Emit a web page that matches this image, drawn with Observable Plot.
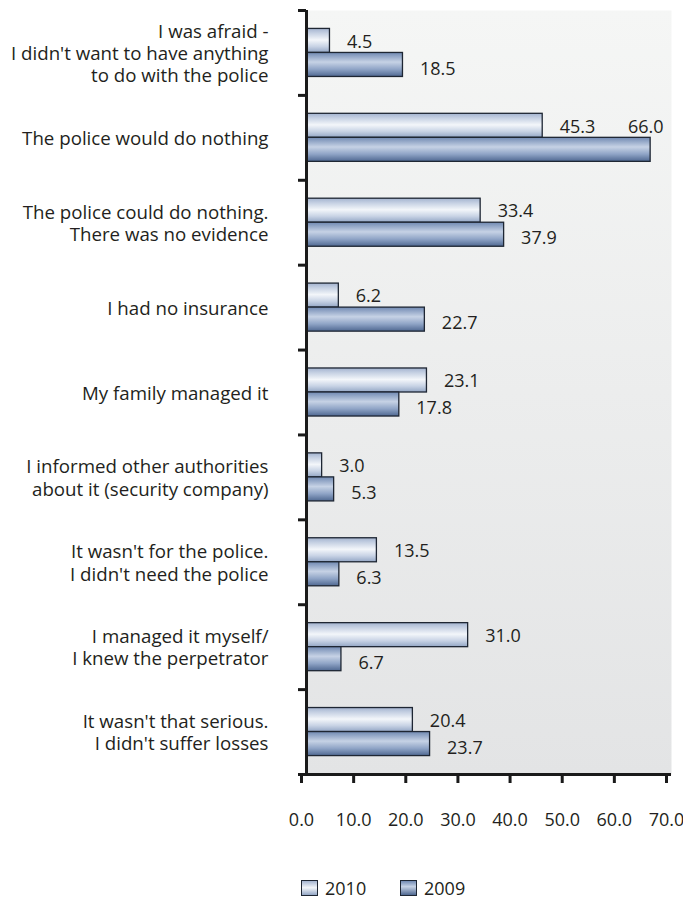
<!DOCTYPE html>
<html>
<head>
<meta charset="utf-8">
<script src="https://cdn.jsdelivr.net/npm/d3@7"></script>
<script src="https://cdn.jsdelivr.net/npm/@observablehq/plot@0.6"></script>
<style>
  html, body { margin: 0; padding: 0; background: #ffffff; }
  #chart { width: 683px; }
  .legend { position: relative; height: 61px; font-family: 'Open Sans', sans-serif; font-size: 18px; color: #231f20; }
  .legend .item { position: absolute; top: 31px; display: flex; align-items: center; }
  .legend .sw { width: 15px; height: 14px; border: 1px solid #1e2633; margin-right: 7px; }
</style>
</head>
<body>
<div id="chart"></div>
<script>
// ---- data ----
const categories = [
  "I was afraid -\nI didn't want to have anything\nto do with the police",
  "The police would do nothing",
  "The police could do nothing.\nThere was no evidence",
  "I had no insurance",
  "My family managed it",
  "I informed other authorities\nabout it (security company)",
  "It wasn't for the police.\nI didn't need the police",
  "I managed it myself/\nI knew the perpetrator",
  "It wasn't that serious.\nI didn't suffer losses"
];
const years = ["2010", "2009"];
const values2010 = [4.5, 45.3, 33.4, 6.2, 23.1, 3.0, 13.5, 31.0, 20.4];
const values2009 = [18.5, 66.0, 37.9, 22.7, 17.8, 5.3, 6.3, 6.7, 23.7];
const xTicks = [0, 10, 20, 30, 40, 50, 60, 70];

// ---- build table ----
const rows = categories.flatMap((c, i) => [
  {i, cat: c, year: years[0], k: 0, value: values2010[i]},
  {i, cat: c, year: years[1], k: 1, value: values2009[i]}
]);
const cats = categories.map((c, i) => ({i, cat: c}));
const H = 0.283; // bar thickness as a fraction of a category band
const yTop = d => d.i + 0.5 - (1 - d.k) * H;
const yBot = d => d.i + 0.5 + d.k * H;
const yMid = d => d.i + 0.5 + (d.k - 0.5) * H;
const fmt = d3.format(".1f");
const ink = "#231f20";
const overflow = d => d.value > 60;

const plot = Plot.plot({
  width: 683,
  height: 845,
  marginLeft: 306,
  marginRight: 12,
  marginTop: 10,
  marginBottom: 71,
  style: {fontFamily: "'Open Sans', sans-serif", fontSize: "18px", color: ink, background: "transparent"},
  x: {domain: [0, 70]},
  y: {domain: [0, 9], reverse: true},
  marks: [
    Plot.frame({fill: "url(#bgGrad)", stroke: "none"}),
    Plot.rectX(rows.filter(d => d.k === 0), {x1: 0, x2: "value", y1: yTop, y2: yBot, fill: "url(#g2010)", stroke: "#1e2633", strokeWidth: 1.3}),
    Plot.rectX(rows.filter(d => d.k === 1), {x1: 0, x2: "value", y1: yTop, y2: yBot, fill: "url(#g2009)", stroke: "#1e2633", strokeWidth: 1.3}),
    Plot.text(rows.filter(d => d.k === 0 && !overflow(d)), {x: "value", y: yMid, text: d => fmt(d.value), textAnchor: "start", dx: 17, dy: 1, fontSize: 18, fill: ink}),
    Plot.text(rows.filter(d => d.k === 1 && !overflow(d)), {x: "value", y: yMid, text: d => fmt(d.value), textAnchor: "start", dx: 17, dy: 4, fontSize: 18, fill: ink}),
    Plot.text(rows.filter(overflow), {x: "value", y: d => d.i + 0.5 - H / 2, text: d => fmt(d.value), textAnchor: "end", dx: 13, dy: 1, fontSize: 18, fill: ink}),
    Plot.text(cats, {y: d => d.i + 0.5, text: "cat", frameAnchor: "left", textAnchor: "end", dx: -38, lineHeight: 1.19, fontSize: 18.7, fill: ink}),
    Plot.ruleX([0], {stroke: "#1a1a1a", strokeWidth: 3}),
    Plot.ruleY([9], {stroke: "#1a1a1a", strokeWidth: 3}),
    Plot.axisY({ticks: d3.range(0, 10), tickSize: 8, tickFormat: () => "", label: null, stroke: "#1a1a1a", strokeWidth: 3}),
    Plot.axisX({ticks: xTicks, tickSize: 9, tickPadding: 30, tickFormat: fmt, label: null, dx: -5, stroke: "#1a1a1a", strokeWidth: 3, fontSize: 18, fill: ink})
  ]
});

d3.select(plot).insert("defs", ":first-child").html(`
  <linearGradient id="bgGrad" x1="0" y1="0" x2="0" y2="1">
    <stop offset="0%" stop-color="#f5f6f5"/>
    <stop offset="100%" stop-color="#e3e4e5"/>
  </linearGradient>
  <linearGradient id="g2010" x1="0" y1="0" x2="0" y2="1">
    <stop offset="0%" stop-color="#a3b3cf"/>
    <stop offset="20%" stop-color="#c6d1e3"/>
    <stop offset="48%" stop-color="#f3f6fa"/>
    <stop offset="75%" stop-color="#c8d3e5"/>
    <stop offset="100%" stop-color="#93a6c5"/>
  </linearGradient>
  <linearGradient id="g2009" x1="0" y1="0" x2="0" y2="1">
    <stop offset="0%" stop-color="#7089b2"/>
    <stop offset="40%" stop-color="#c6d2e5"/>
    <stop offset="70%" stop-color="#8fa4c6"/>
    <stop offset="100%" stop-color="#4f6891"/>
  </linearGradient>
`);

document.getElementById("chart").appendChild(plot);

// ---- legend (HTML, below the SVG) ----
const legend = document.createElement("div");
legend.className = "legend";
const swatchBg = {
  "2010": "linear-gradient(#a3b3cf, #f3f6fa 48%, #93a6c5)",
  "2009": "linear-gradient(#7089b2, #c6d2e5 40%, #4f6891)"
};
const legendLeft = {"2010": 301, "2009": 400};
years.forEach(y => {
  const item = document.createElement("div");
  item.className = "item";
  item.style.left = legendLeft[y] + "px";
  const sw = document.createElement("div");
  sw.className = "sw";
  sw.style.background = swatchBg[y];
  const t = document.createElement("span");
  t.textContent = y;
  item.appendChild(sw);
  item.appendChild(t);
  legend.appendChild(item);
});
document.getElementById("chart").appendChild(legend);
</script>
</body>
</html>
